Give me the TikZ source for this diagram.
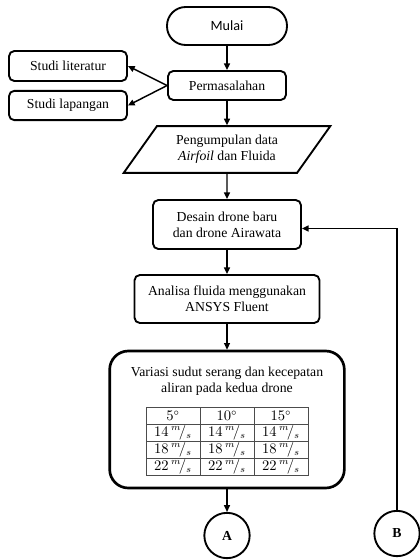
\documentclass[tikz,border=0pt]{standalone}
\usepackage{fontspec}
\setmainfont{Liberation Serif}
\newfontfamily\calibri{Carlito}
\usetikzlibrary{shapes.geometric,matrix,arrows.meta}
\newcommand{\kec}[1]{#1\,{}^{m}\!/_{s}}

\begin{document}
\begin{tikzpicture}[x=0.75pt,y=0.75pt,yscale=-1,xscale=1,
    font=\fontsize{10.3}{12.2}\selectfont,
    kotak/.style={draw,line width=1.4pt,rounded corners=4pt,align=center,inner sep=0pt},
    panah/.style={line width=1.1pt,-{Triangle[length=5pt,width=4.5pt]}},
    konektor/.style={draw,circle,line width=1.4pt,minimum size=34pt,inner sep=0pt,font=\bfseries\fontsize{10.3}{12}\selectfont}]
    \useasboundingbox (0,0) rectangle (419,560);

    %Shape: Terminal
    \node [kotak,rounded corners=14pt,minimum width=90pt,minimum height=28.5pt,font=\calibri\fontsize{10.6}{12}\selectfont] (mulai) at (227,26) {Mulai};
    %Shape: Rectangle
    \node [kotak,minimum width=88.5pt,minimum height=21.75pt] (masalah) at (227,85.5) {Permasalahan};
    \node [kotak,minimum width=88.5pt,minimum height=22.5pt] (literatur) at (68,66) {Studi literatur};
    \node [kotak,minimum width=88.5pt,minimum height=22pt] (lapangan) at (68,105.5) {Studi lapangan};
    %Shape: Parallelogram
    \node [draw,trapezium,trapezium stretches=true,trapezium left angle=50,trapezium right angle=130,line width=1.4pt,minimum width=155pt,minimum height=35pt,align=center,inner sep=0pt] (data) at (227,149.5) {Pengumpulan data\\\textit{Airfoil} dan Fluida};
    %Shape: Rectangle
    \node [kotak,minimum width=111pt,minimum height=36.75pt] (desain) at (227,224.5) {Desain drone baru\\dan drone Airawata};
    \node [kotak,minimum width=138.75pt,minimum height=36pt] (analisa) at (227,299) {Analisa fluida menggunakan\\ANSYS Fluent};
    \node [kotak,line width=2pt,rounded corners=14pt,minimum width=176pt,minimum height=102.75pt] (variasi) at (227,419.5) {};
    % Text Node
    \node [align=center] (judul) at (227,381) {Variasi sudut serang dan kecepatan\\aliran pada kedua drone};
    %Table
    \matrix [matrix of math nodes,nodes={draw=black!70,line width=0.6pt,minimum width=40.5pt,minimum height=12.75pt,inner sep=0pt,font=\fontsize{10.5}{12}\selectfont},column sep=-0.6pt,row sep=-0.6pt] (tabel) at (227,441) {
        5^{\circ} & 10^{\circ} & 15^{\circ} \\
        \kec{14} & \kec{14} & \kec{14} \\
        \kec{18} & \kec{18} & \kec{18} \\
        \kec{22} & \kec{22} & \kec{22} \\
    };
    %Shape: Circle
    \node [konektor] (A) at (227,535.5) {A};
    \node [konektor] (B) at (397,533.5) {B};

    %Straight Lines
    \draw [panah] (mulai) -- (masalah);
    \draw [panah] (masalah.west) -- (literatur.east);
    \draw [panah] (masalah.west) -- (lapangan.east);
    \draw [panah] (masalah) -- (data);
    \draw [panah] (data) -- (desain);
    \draw [panah] (desain) -- (analisa);
    \draw [panah] (analisa) -- (variasi);
    \draw [panah] (variasi) -- (A);
    \draw [panah] (B) |- ([yshift=3pt]desain.east);

\end{tikzpicture}
\end{document}
